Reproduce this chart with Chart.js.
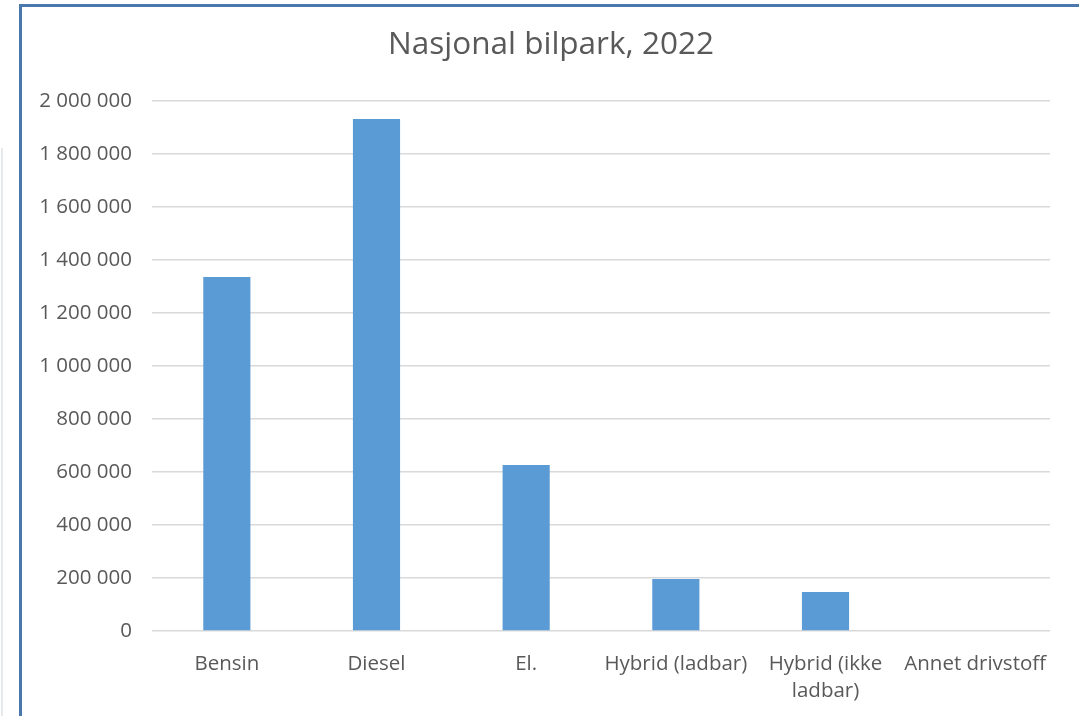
<!DOCTYPE html>
<html><head><meta charset="utf-8">
<script src="https://cdn.jsdelivr.net/npm/chart.js@4/dist/chart.umd.min.js"></script>
<style>
html,body{margin:0;padding:0;background:#fff;}
body{width:1079px;height:716px;position:relative;overflow:hidden;}
#side{position:absolute;left:1px;top:148px;width:0;height:600px;border-left:2px solid #e6e9ec;}
#frame{position:absolute;left:19px;top:4px;width:1100px;height:760px;border:3px solid #4a78ad;box-sizing:border-box;}
#wrap{position:absolute;left:0;top:0;width:1079px;height:716px;}
</style></head>
<body>
<div id="side"></div>
<div id="frame"></div>
<div id="wrap"><canvas id="c"></canvas></div>
<script>
const categories = ['Bensin', 'Diesel', 'El.', 'Hybrid (ladbar)', ['Hybrid (ikke', 'ladbar)'], 'Annet drivstoff'];
const vehicles = [1336000, 1932000, 626000, 196000, 147000, 2500];
const yTicks = [0, 200000, 400000, 600000, 800000, 1000000, 1200000, 1400000, 1600000, 1800000, 2000000];
const titleText = 'Nasjonal bilpark, 2022';

const fam = '"Open Sans", Lato, "Noto Sans", sans-serif';
const fmt = v => String(v).replace(/\B(?=(\d{3})+(?!\d))/g, ' ');

const titlePlugin = {
  id: 'frameTitle',
  afterDraw(chart) {
    const ctx = chart.ctx;
    ctx.save();
    ctx.font = '31.5px ' + fam;
    ctx.fillStyle = '#595959';
    ctx.textAlign = 'center';
    ctx.textBaseline = 'alphabetic';
    ctx.fillText(titleText, 551, 54);
    ctx.restore();
  }
};

new Chart(document.getElementById('c'), {
  type: 'bar',
  data: { labels: categories, datasets: [{ data: vehicles, backgroundColor: '#5b9bd5', barPercentage: 0.315, categoryPercentage: 1 }] },
  options: {
    responsive: true, maintainAspectRatio: false, animation: false,
    layout: { padding: { left: 0, right: 29, top: 101, bottom: 0 } },
    plugins: {
      legend: { display: false }, tooltip: { enabled: false }, title: { display: false }
    },
    scales: {
      x: {
        grid: { display: false }, border: { display: false },
        ticks: { color: '#595959', font: { family: fam, size: 20.5, lineHeight: 1.3 }, padding: 12, maxRotation: 0, autoSkip: false },
        afterFit: s => { s.height = 85; }
      },
      y: {
        min: 0, max: 2000000,
        afterBuildTicks: s => { s.ticks = yTicks.map(v => ({ value: v })); },
        grid: { color: '#d9d9d9', lineWidth: 1.5, drawTicks: false },
        border: { display: false },
        ticks: { color: '#595959', font: { family: fam, size: 20.5 }, padding: 20, callback: v => fmt(v) },
        afterFit: s => { s.width = 152; }
      }
    }
  },
  plugins: [titlePlugin]
});
</script>
</body></html>
